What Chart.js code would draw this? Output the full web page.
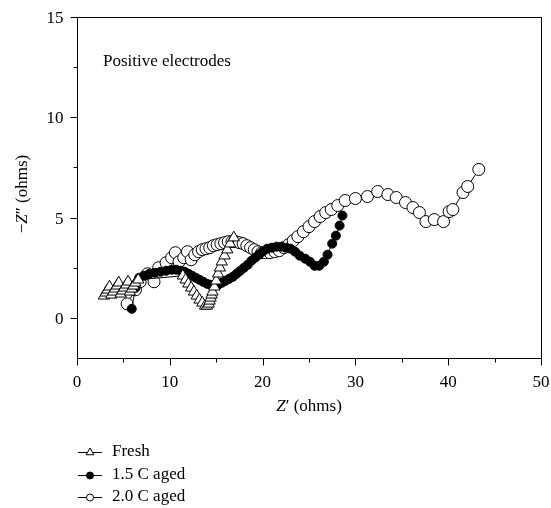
<!DOCTYPE html>
<html>
<head>
<meta charset="utf-8">
<script src="https://cdn.jsdelivr.net/npm/chart.js@4/dist/chart.umd.min.js"></script>
<style>
  html, body { margin: 0; padding: 0; background: #fff; }
  #wrap { width: 551px; height: 508px; }
</style>
</head>
<body>
<div id="wrap"><canvas id="c"></canvas></div>
<script>
const seriesLabels = ['Fresh', '1.5 C aged', '2.0 C aged'];

const freshX = [2.9, 3.1, 3.3, 3.5, 3.7, 3.9, 4.1, 4.3, 4.5, 4.7, 4.9, 5.1, 5.3, 5.5, 5.7, 5.9, 6.1, 6.3, 6.6,
  11.4, 11.7, 12.0, 12.3, 12.6, 12.9, 13.2, 13.5, 13.8, 14.0, 14.2, 14.3, 14.4, 14.5, 14.6, 14.8, 15.0, 15.2, 15.4, 15.6,
  15.9, 16.2, 16.5, 16.9];
const freshY = [1.1, 1.25, 1.4, 1.55, 1.15, 1.3, 1.45, 1.6, 1.75, 1.2, 1.35, 1.5, 1.65, 1.8, 1.3, 1.45, 1.6, 1.75, 1.9,
  2.1, 1.9, 1.7, 1.5, 1.3, 1.1, 0.9, 0.75, 0.6, 0.6, 0.7, 0.85, 1.0, 1.15, 1.3, 1.55, 1.85, 2.2, 2.5, 2.8,
  3.1, 3.4, 3.7, 4.0];

const aged15X = [5.9, 6.3, 6.7, 7.2, 7.8, 8.4, 9.0, 9.6, 10.2, 10.7, 11.2, 11.6, 12.0, 12.4, 12.8, 13.2, 13.6, 14.0, 14.4, 14.8,
  15.2, 15.6, 16.0, 16.4, 16.8, 17.2, 17.6, 18.0, 18.4, 18.8, 19.2, 19.6, 20.0, 20.5, 21.0, 21.5, 22.0, 22.5, 23.0, 23.5,
  24.0, 24.6, 25.1, 25.6, 26.1, 26.6, 27.0, 27.5, 27.9, 28.3, 28.6];
const aged15Y = [0.45, 1.5, 2.0, 2.1, 2.2, 2.25, 2.3, 2.35, 2.4, 2.4, 2.35, 2.3, 2.2, 2.1, 2.0, 1.9, 1.8, 1.7, 1.65, 1.6,
  1.65, 1.75, 1.85, 1.95, 2.05, 2.2, 2.35, 2.5, 2.65, 2.85, 3.0, 3.15, 3.3, 3.45, 3.5, 3.55, 3.55, 3.5, 3.45, 3.3,
  3.1, 2.95, 2.8, 2.6, 2.6, 2.8, 3.15, 3.7, 4.1, 4.6, 5.1];

const aged20X = [5.4, 6.3, 6.8, 7.6, 8.3, 8.8, 9.6, 10.2, 10.6, 11.0, 11.5, 11.9, 12.3, 12.7, 13.1, 13.5, 13.9, 14.3, 14.7, 15.1,
  15.5, 15.9, 16.3, 16.7, 17.1, 17.5, 17.9, 18.3, 18.7, 19.1, 19.5, 19.9, 20.3, 20.8, 21.3, 21.8, 22.3, 22.8, 23.3, 23.8,
  24.4, 25.0, 25.6, 26.2, 26.8, 27.4, 28.1, 28.9, 30.0, 31.3, 32.4, 33.5, 34.4, 35.4, 36.2, 36.9, 37.6, 38.5, 39.5, 40.1,
  40.5, 41.6, 42.1, 43.3];
const aged20Y = [0.7, 1.4, 1.8, 2.2, 1.8, 2.5, 2.75, 3.0, 3.25, 2.8, 3.0, 3.3, 2.9, 3.15, 3.3, 3.4, 3.45, 3.5, 3.6, 3.65,
  3.7, 3.75, 3.8, 3.8, 3.8, 3.75, 3.7, 3.6, 3.5, 3.4, 3.3, 3.25, 3.25, 3.25, 3.3, 3.35, 3.5, 3.65, 3.85, 4.05,
  4.3, 4.55, 4.8, 5.05, 5.25, 5.4, 5.6, 5.85, 5.95, 6.05, 6.3, 6.15, 6.0, 5.75, 5.5, 5.25, 4.8, 4.9, 4.8, 5.3,
  5.4, 6.25, 6.55, 7.4];

const xMajor = [0, 10, 20, 30, 40, 50];
const xMinor = [5, 15, 25, 35, 45];
const yMajor = [0, 5, 10, 15];
const yMinor = [2.5, 7.5, 12.5];

const SERIF = '"Liberation Serif", "DejaVu Serif", serif';
const pts = (xs, ys) => xs.map((x, i) => ({ x: x, y: ys[i] }));

// frame, tick marks + labels, axis titles, panel label and legend
const decor = {
  id: 'decor',
  afterDraw(chart) {
    const { ctx, chartArea: a, scales: { x, y } } = chart;
    ctx.save();
    ctx.strokeStyle = '#000';
    ctx.lineWidth = 1;
    const L = Math.round(a.left) + 0.5, R = Math.round(a.right) + 0.5;
    const T = Math.round(a.top) + 0.5, B = Math.round(a.bottom) + 0.5;
    ctx.strokeRect(L, T, R - L, B - T);

    ctx.beginPath();
    xMajor.concat(xMinor).forEach((v) => {
      const px = Math.round(x.getPixelForValue(v)) + 0.5;
      const len = xMajor.includes(v) ? 7 : 4;
      ctx.moveTo(px, B); ctx.lineTo(px, B + len);
    });
    yMajor.concat(yMinor).forEach((v) => {
      const py = Math.round(y.getPixelForValue(v)) + 0.5;
      const len = yMajor.includes(v) ? 7 : 4;
      ctx.moveTo(L, py); ctx.lineTo(L - len, py);
    });
    ctx.stroke();

    ctx.fillStyle = '#000';
    ctx.font = '17px ' + SERIF;
    ctx.textBaseline = 'alphabetic';
    ctx.textAlign = 'center';
    xMajor.forEach((v) => ctx.fillText(String(v), x.getPixelForValue(v), B + 28));
    ctx.textAlign = 'right';
    yMajor.forEach((v) => ctx.fillText(String(v), L - 14, y.getPixelForValue(v) + 6));

    ctx.textBaseline = 'middle';
    // mixed italic / upright title pieces
    const drawPieces = (pieces, cx, cy) => {
      let total = 0;
      pieces.forEach((p) => { ctx.font = p[1]; total += ctx.measureText(p[0]).width; });
      let pos = cx - total / 2;
      ctx.textAlign = 'left';
      pieces.forEach((p) => {
        ctx.font = p[1];
        ctx.fillText(p[0], pos, cy);
        pos += ctx.measureText(p[0]).width;
      });
    };
    const up = '17px ' + SERIF;
    const it = 'italic 17px ' + SERIF;

    drawPieces([['Z', it], ['\u2032 (ohms)', up]], (a.left + a.right) / 2, 407);

    ctx.save();
    ctx.translate(23, 194);
    ctx.rotate(-Math.PI / 2);
    drawPieces([['\u2212', up], ['Z', it], ['\u2033 (ohms)', up]], 0, 0);
    ctx.restore();

    ctx.font = '17px ' + SERIF;
    ctx.textAlign = 'left';
    ctx.fillText('Positive electrodes', 103, 62);

    // legend
    const rows = [452, 475, 497];
    chart.data.datasets.forEach((ds, i) => {
      const yy = rows[i] + 0.5;
      ctx.strokeStyle = '#000';
      ctx.beginPath();
      ctx.moveTo(78, yy); ctx.lineTo(102, yy);
      ctx.stroke();
      ctx.fillStyle = ds.pointBackgroundColor;
      Chart.helpers.drawPoint(ctx, {
        pointStyle: ds.pointStyle,
        radius: ds.pointStyle === 'triangle' ? 4.5 : 3.5,
        rotation: 0,
        borderWidth: 1
      }, 90, yy);
      ctx.fillStyle = '#000';
      ctx.font = '17px ' + SERIF;
      ctx.fillText(ds.label, 112, rows[i]);
    });
    ctx.restore();
  }
};

const common = {
  showLine: true,
  borderColor: '#000',
  borderWidth: 1,
  pointBorderColor: '#000',
  pointBorderWidth: 1
};

new Chart(document.getElementById('c'), {
  type: 'scatter',
  data: {
    datasets: [
      Object.assign({
        label: seriesLabels[0],
        data: pts(freshX, freshY),
        pointStyle: 'triangle',
        pointRadius: 6.5,
        pointBackgroundColor: '#fff'
      }, common),
      Object.assign({
        label: seriesLabels[1],
        data: pts(aged15X, aged15Y),
        pointStyle: 'circle',
        pointRadius: 4.5,
        pointBackgroundColor: '#000'
      }, common),
      Object.assign({
        label: seriesLabels[2],
        data: pts(aged20X, aged20Y),
        pointStyle: 'circle',
        pointRadius: 6,
        pointBackgroundColor: '#fff'
      }, common)
    ]
  },
  options: {
    responsive: true,
    maintainAspectRatio: false,
    animation: false,
    layout: { padding: { left: 0, right: 10, top: 17, bottom: 110 } },
    plugins: { legend: { display: false }, tooltip: { enabled: false } },
    scales: {
      x: {
        type: 'linear',
        min: 0,
        max: 50,
        afterFit: (s) => { s.height = 40; },
        afterBuildTicks: (s) => { s.ticks = xMajor.map((v) => ({ value: v })); },
        grid: { display: false },
        border: { display: false },
        ticks: { display: false }
      },
      y: {
        type: 'linear',
        min: -2,
        max: 15,
        afterFit: (s) => { s.width = 77; },
        afterBuildTicks: (s) => { s.ticks = yMajor.map((v) => ({ value: v })); },
        grid: { display: false },
        border: { display: false },
        ticks: { display: false }
      }
    }
  },
  plugins: [decor]
});
</script>
</body>
</html>
